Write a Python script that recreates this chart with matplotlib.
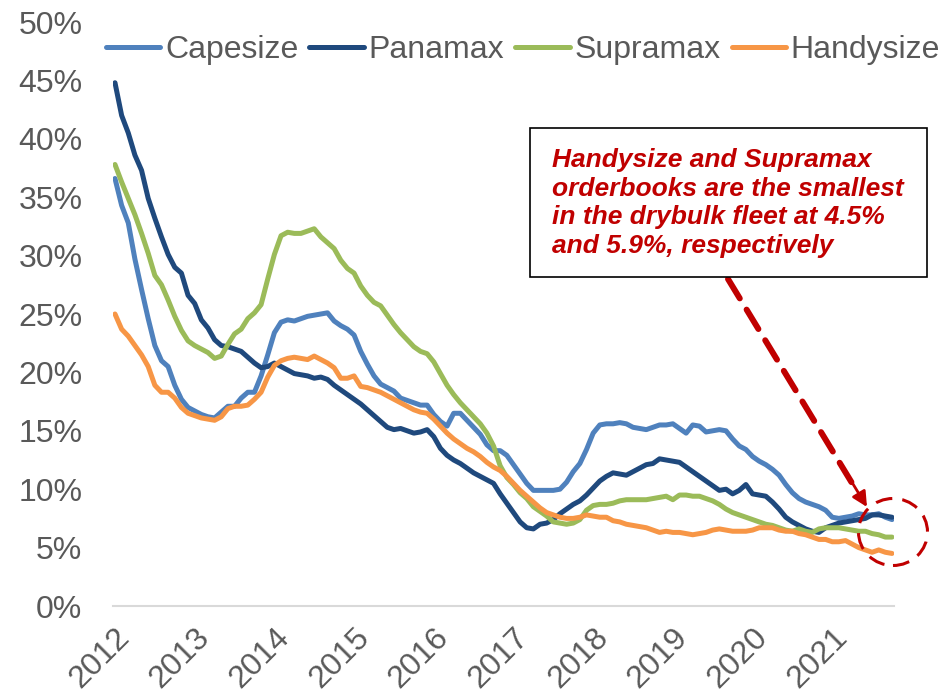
import matplotlib
matplotlib.use("Agg")
import matplotlib.pyplot as plt
from matplotlib.patches import Rectangle, Ellipse

plt.rcParams['font.family'] = ['Liberation Sans', 'DejaVu Sans']

# monthly orderbook as % of fleet, Jan 2012 .. Oct 2021
years = ['2012', '2013', '2014', '2015', '2016', '2017', '2018', '2019', '2020', '2021']

capesize = [36.6, 34.3, 32.8, 29.7, 27.1, 24.6, 22.3, 21.0, 20.5, 18.9, 17.7, 17.0,
            16.7, 16.4, 16.2, 16.1, 16.6, 17.1, 17.1, 17.8, 18.3, 18.3, 19.7, 21.5,
            23.4, 24.3, 24.5, 24.4, 24.6, 24.8, 24.9, 25.0, 25.1, 24.4, 24.0, 23.7,
            23.2, 21.8, 20.7, 19.7, 19.0, 18.7, 18.4, 17.8, 17.6, 17.4, 17.2, 17.2,
            16.4, 15.8, 15.4, 16.5, 16.5, 15.9, 15.3, 14.7, 13.8, 13.3, 13.3, 12.9,
            12.1, 11.3, 10.5, 9.9, 9.9, 9.9, 9.9, 10.0, 10.6, 11.5, 12.2, 13.4,
            14.8, 15.5, 15.6, 15.6, 15.7, 15.6, 15.3, 15.2, 15.1, 15.3, 15.5, 15.5,
            15.6, 15.2, 14.8, 15.5, 15.4, 14.9, 15.0, 15.1, 15.0, 14.3, 13.7, 13.4,
            12.8, 12.4, 12.1, 11.7, 11.2, 10.4, 9.7, 9.2, 8.9, 8.7, 8.5, 8.2,
            7.6, 7.5, 7.6, 7.7, 7.9, 7.8, 7.8, 7.9, 7.6, 7.4]

panamax = [44.8, 42.0, 40.5, 38.6, 37.3, 34.9, 33.2, 31.6, 30.1, 29.0, 28.5, 26.6,
           25.9, 24.5, 23.8, 22.8, 22.3, 22.2, 22.0, 21.8, 21.3, 20.8, 20.4, 20.5,
           20.8, 20.5, 20.2, 19.9, 19.8, 19.7, 19.5, 19.6, 19.4, 18.9, 18.5, 18.1,
           17.7, 17.3, 16.8, 16.3, 15.8, 15.3, 15.1, 15.2, 15.0, 14.8, 14.9, 15.1,
           14.5, 13.5, 12.9, 12.5, 12.2, 11.8, 11.4, 11.1, 10.8, 10.5, 9.6, 8.8,
           8.0, 7.2, 6.7, 6.6, 7.0, 7.1, 7.4, 7.9, 8.3, 8.7, 9.0, 9.5,
           10.1, 10.7, 11.1, 11.4, 11.3, 11.2, 11.5, 11.8, 12.1, 12.2, 12.6, 12.5,
           12.4, 12.3, 11.9, 11.5, 11.1, 10.7, 10.3, 9.9, 10.0, 9.6, 9.9, 10.4,
           9.6, 9.5, 9.4, 8.9, 8.3, 7.6, 7.2, 6.9, 6.6, 6.4, 6.3, 6.7,
           6.9, 7.1, 7.2, 7.3, 7.4, 7.5, 7.8, 7.8, 7.7, 7.6]

supramax = [37.8, 36.3, 34.9, 33.5, 31.9, 30.2, 28.3, 27.5, 26.2, 24.8, 23.6, 22.7,
            22.3, 22.0, 21.7, 21.2, 21.4, 22.4, 23.3, 23.7, 24.6, 25.1, 25.8, 28.0,
            30.1, 31.7, 32.0, 31.9, 31.9, 32.1, 32.3, 31.6, 31.1, 30.6, 29.6, 28.9,
            28.5, 27.4, 26.6, 26.0, 25.7, 24.9, 24.1, 23.4, 22.8, 22.2, 21.8, 21.6,
            20.9, 19.9, 18.9, 18.1, 17.4, 16.8, 16.2, 15.6, 14.8, 13.7, 12.0, 11.0,
            10.4, 9.7, 9.2, 8.5, 8.1, 7.7, 7.2, 7.1, 7.0, 7.1, 7.4, 8.2,
            8.6, 8.7, 8.7, 8.8, 9.0, 9.1, 9.1, 9.1, 9.1, 9.2, 9.3, 9.4,
            9.1, 9.5, 9.5, 9.4, 9.4, 9.2, 9.0, 8.7, 8.3, 8.0, 7.8, 7.6,
            7.4, 7.2, 7.0, 6.9, 6.7, 6.5, 6.4, 6.6, 6.4, 6.3, 6.6, 6.7,
            6.7, 6.7, 6.6, 6.5, 6.4, 6.4, 6.2, 6.1, 5.9, 5.9]

handysize = [25.0, 23.7, 23.1, 22.3, 21.5, 20.5, 18.9, 18.3, 18.3, 17.8, 17.0, 16.5,
             16.3, 16.1, 16.0, 15.9, 16.2, 16.9, 17.1, 17.1, 17.2, 17.7, 18.3, 19.6,
             20.6, 21.0, 21.2, 21.3, 21.2, 21.1, 21.4, 21.1, 20.8, 20.4, 19.5, 19.5,
             19.7, 18.8, 18.7, 18.5, 18.3, 18.0, 17.7, 17.4, 17.1, 16.8, 16.6, 16.5,
             16.0, 15.4, 14.8, 14.3, 13.9, 13.5, 13.2, 12.8, 12.3, 11.9, 11.6, 11.1,
             10.5, 9.9, 9.4, 8.9, 8.4, 8.0, 7.8, 7.6, 7.5, 7.5, 7.6, 7.8,
             7.7, 7.6, 7.6, 7.3, 7.2, 7.0, 6.9, 6.8, 6.7, 6.5, 6.3, 6.4,
             6.3, 6.3, 6.2, 6.1, 6.2, 6.3, 6.5, 6.6, 6.5, 6.4, 6.4, 6.4,
             6.5, 6.7, 6.7, 6.7, 6.5, 6.4, 6.4, 6.2, 6.1, 5.9, 5.7, 5.7,
             5.5, 5.5, 5.6, 5.3, 5.0, 4.8, 4.6, 4.8, 4.6, 4.5]

series = [('Capesize', capesize, '#4F81BD'),
          ('Panamax', panamax, '#1F497D'),
          ('Supramax', supramax, '#9BBB59'),
          ('Handysize', handysize, '#F79646')]

W, H = 948, 700
fig = plt.figure(figsize=(W / 100, H / 100), dpi=100)
ax = fig.add_axes([113 / W, 1 - 606 / H, 781 / W, 584 / H])

months = list(range(len(capesize)))
for name, vals, col in series:
    ax.plot(months, vals, color=col, lw=3.6, label=name, solid_capstyle='round')

ax.set_xlim(-0.3, 117.3)
ax.set_ylim(0, 50)
ax.set_yticks(range(0, 51, 5))
ax.set_yticklabels(['%d%%' % v for v in range(0, 51, 5)])
ax.set_xticks([12 * i for i in range(len(years))])
ax.set_xticklabels(years, rotation=45, ha='right', va='top', rotation_mode='anchor')
ax.tick_params(axis='y', length=0, pad=22, labelsize=23, labelcolor='#595959')
ax.tick_params(axis='x', length=0, pad=12, labelsize=23, labelcolor='#595959')
for s in ['top', 'right', 'left']:
    ax.spines[s].set_visible(False)
ax.spines['bottom'].set_color('#D9D9D9')
ax.spines['bottom'].set_linewidth(1.5)

leg = fig.legend(loc='center', bbox_to_anchor=(523 / W, 1 - 50 / H), ncol=4,
                 frameon=False, fontsize=23, handlelength=1.7, handletextpad=0.15,
                 columnspacing=0.35, borderpad=0)
for t in leg.get_texts():
    t.set_color('#595959')


def fx(px):
    return px / W


def fy(py):
    return 1 - py / H


red = '#C00000'
fig.patches.append(Rectangle((fx(530), fy(277)), (927 - 530) / W, (277 - 128) / H,
                             transform=fig.transFigure, facecolor='white',
                             edgecolor='black', lw=1.2, zorder=5))
fig.text(fx(552), fy(203),
         'Handysize and Supramax\norderbooks are the smallest\n'
         'in the drybulk fleet at 4.5%\nand 5.9%, respectively',
         color=red, fontsize=19, fontweight='bold', fontstyle='italic',
         ha='left', va='center', linespacing=1.25, zorder=6)

# dashed arrow from the box down to the circled end of the lines
ax.annotate('', xy=(fx(855), fy(488)), xytext=(fx(728), fy(279)),
            xycoords='figure fraction', textcoords='figure fraction',
            arrowprops=dict(arrowstyle='-', color=red, lw=4.3,
                            linestyle=(0, (3.8, 2.2)), shrinkA=0, shrinkB=0))
ax.annotate('', xy=(fx(867), fy(507)), xytext=(fx(853), fy(484)),
            xycoords='figure fraction', textcoords='figure fraction',
            arrowprops=dict(arrowstyle='-|>,head_length=0.9,head_width=0.45',
                            color=red, lw=2, shrinkA=0, shrinkB=0))
fig.patches.append(Ellipse((fx(893), fy(532)), 69 / W, 67 / H,
                           transform=fig.transFigure, fill=False, edgecolor=red,
                           lw=2.2, linestyle=(0, (5.5, 3.3))))

fig.savefig('out.png', dpi=100)
